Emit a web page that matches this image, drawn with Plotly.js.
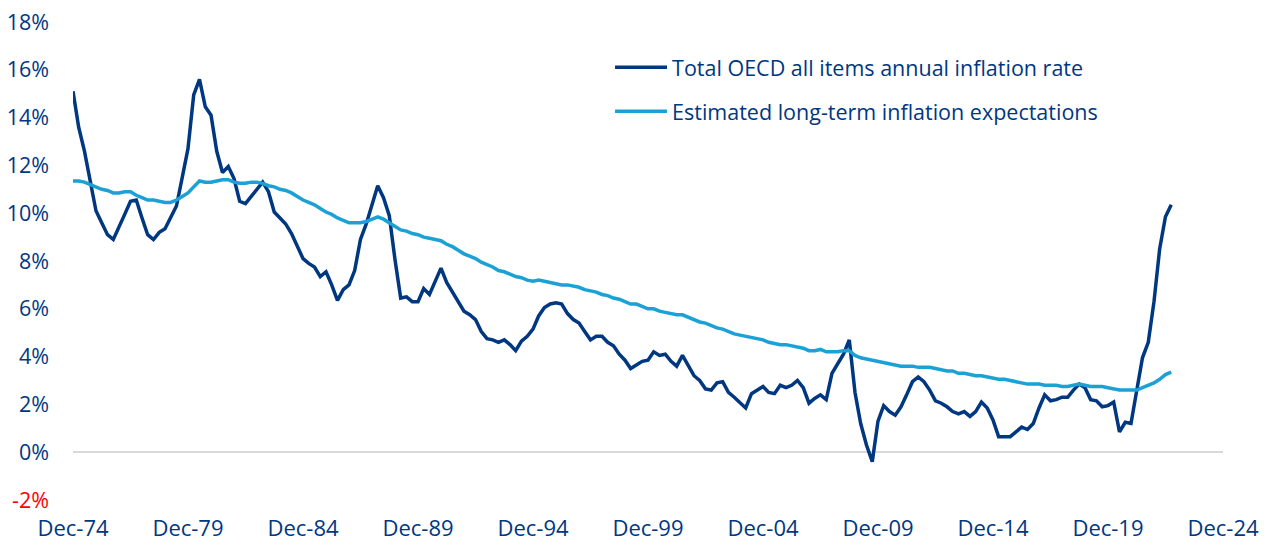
<!DOCTYPE html>
<html>
<head>
<meta charset="utf-8">
<script src="https://cdn.plot.ly/plotly-3.0.1.min.js"></script>
<style>html,body{margin:0;padding:0;background:#fff;}#chart{width:1264px;height:541px;}</style>
</head>
<body>
<div id="chart"></div>
<script>
// Quarterly series, first observation Dec-74, last Sep-22
const startYear = 1974, startMonth = 12;

const oecdInflation = [
15.1,13.6,12.6,11.4,10.1,9.6,9.1,8.9,9.4,9.95,10.5,10.55,9.8,9.1,8.9,9.2,9.35,9.85,10.3,11.5,
12.7,14.95,15.6,14.45,14.1,12.6,11.7,11.95,11.45,10.5,10.4,10.7,11.0,11.3,10.9,10.05,9.8,9.55,9.15,8.6,
8.1,7.9,7.75,7.35,7.55,7.0,6.35,6.8,7.0,7.6,8.9,9.55,10.4,11.15,10.65,9.9,8.05,6.45,6.5,6.3,
6.3,6.85,6.6,7.2,7.7,7.1,6.7,6.3,5.9,5.75,5.55,5.05,4.75,4.7,4.6,4.7,4.5,4.25,4.65,4.85,
5.15,5.7,6.05,6.2,6.25,6.2,5.8,5.55,5.4,5.05,4.7,4.85,4.85,4.6,4.45,4.1,3.85,3.5,3.65,3.8,
3.85,4.2,4.05,4.1,3.8,3.6,4.05,3.6,3.2,3.0,2.65,2.6,2.9,2.95,2.5,2.3,2.05,1.85,2.45,2.6,
2.75,2.5,2.45,2.8,2.7,2.8,3.0,2.7,2.05,2.25,2.4,2.2,3.3,3.7,4.1,4.7,2.5,1.2,0.3,-0.4,
1.3,1.95,1.7,1.55,1.9,2.4,2.95,3.15,2.95,2.6,2.15,2.05,1.9,1.7,1.6,1.7,1.5,1.7,2.1,1.85,
1.35,0.65,0.65,0.65,0.85,1.05,0.95,1.2,1.85,2.4,2.15,2.2,2.3,2.3,2.6,2.85,2.7,2.2,2.15,1.9,
1.95,2.1,0.85,1.25,1.2,2.6,3.95,4.6,6.3,8.5,9.85,10.35
];

const longTermExpectations = [
11.35,11.35,11.3,11.2,11.1,11.0,10.95,10.85,10.85,10.9,10.9,10.75,10.65,10.55,10.55,10.5,10.45,10.45,10.55,10.7,
10.85,11.1,11.35,11.3,11.3,11.35,11.4,11.4,11.3,11.25,11.25,11.3,11.3,11.25,11.15,11.1,11.0,10.95,10.85,10.7,
10.55,10.45,10.35,10.2,10.05,9.95,9.8,9.7,9.6,9.6,9.6,9.65,9.75,9.85,9.75,9.6,9.45,9.3,9.25,9.15,
9.1,9.0,8.95,8.9,8.85,8.7,8.6,8.45,8.3,8.2,8.1,7.95,7.85,7.75,7.6,7.55,7.45,7.35,7.3,7.2,
7.15,7.2,7.15,7.1,7.05,7.0,7.0,6.95,6.9,6.8,6.75,6.7,6.6,6.55,6.45,6.4,6.3,6.2,6.2,6.1,
6.0,6.0,5.9,5.85,5.8,5.75,5.75,5.65,5.55,5.45,5.4,5.3,5.2,5.15,5.05,4.95,4.9,4.85,4.8,4.75,
4.7,4.6,4.55,4.5,4.5,4.45,4.4,4.35,4.25,4.25,4.3,4.2,4.2,4.2,4.25,4.25,4.05,3.95,3.9,3.85,
3.8,3.75,3.7,3.65,3.6,3.6,3.6,3.55,3.55,3.55,3.5,3.45,3.4,3.4,3.3,3.3,3.25,3.2,3.2,3.15,
3.1,3.05,3.05,3.0,2.95,2.9,2.85,2.85,2.85,2.8,2.8,2.8,2.75,2.75,2.8,2.85,2.8,2.75,2.75,2.75,
2.7,2.65,2.6,2.6,2.6,2.6,2.7,2.8,2.9,3.05,3.25,3.35
];

const yTickVals = [-2,0,2,4,6,8,10,12,14,16,18];
const yTickText = ['<span style="fill:#ff0000;color:#ff0000">-2%</span>','0%','2%','4%','6%','8%','10%','12%','14%','16%','18%'];
const xTickVals = ['1974-12-01','1979-12-01','1984-12-01','1989-12-01','1994-12-01','1999-12-01','2004-12-01','2009-12-01','2014-12-01','2019-12-01','2024-12-01'];
const xTickText = ['Dec-74','Dec-79','Dec-84','Dec-89','Dec-94','Dec-99','Dec-04','Dec-09','Dec-14','Dec-19','Dec-24'];
const seriesNames = ['Total OECD all items annual inflation rate','Estimated long-term inflation expectations'];

function quarterDates(n){
  const out = [];
  for (let i = 0; i < n; i++) {
    const m0 = (startMonth - 1) + 3 * i;
    const y = startYear + Math.floor(m0 / 12);
    const m = (m0 % 12) + 1;
    out.push(y + '-' + String(m).padStart(2,'0') + '-01');
  }
  return out;
}
const dates = quarterDates(oecdInflation.length);

const navy = '#003781';
const light = '#1ba1d6';
const fontFam = '"Open Sans", "Noto Sans", sans-serif';

const traces = [
  {x: dates, y: oecdInflation, type: 'scatter', mode: 'lines', name: seriesNames[0],
   line: {color: navy, width: 3.5}, legendgroup: 'a'},
  {x: dates, y: longTermExpectations, type: 'scatter', mode: 'lines', name: seriesNames[1],
   line: {color: light, width: 3.5}, legendgroup: 'b'}
];

const layout = {
  width: 1264, height: 541,
  margin: {l: 73, r: 41, t: 22, b: 41},
  paper_bgcolor: '#ffffff', plot_bgcolor: '#ffffff',
  font: {family: fontFam, color: navy, size: 21},
  showlegend: true,
  legend: {x: 0.467, xanchor: 'left', y: 0.948, yanchor: 'top',
           font: {family: fontFam, size: 21.5, color: navy},
           bgcolor: 'rgba(0,0,0,0)', tracegroupgap: 13, itemwidth: 52},
  xaxis: {type: 'date', range: ['1974-12-01','2024-12-01'], tickmode: 'array',
          tickvals: xTickVals, ticktext: xTickText, showgrid: false, zeroline: false,
          showline: false, ticks: '', ticklabelstandoff: 13,
          tickfont: {family: fontFam, size: 22, color: navy}},
  yaxis: {range: [-2, 18], tickmode: 'array', tickvals: yTickVals, ticktext: yTickText,
          showgrid: false, zeroline: true, zerolinecolor: '#d9d9d9', zerolinewidth: 2,
          showline: false, ticks: '', ticklabelstandoff: 23,
          tickfont: {family: fontFam, size: 21.5, color: navy}}
};

Plotly.newPlot('chart', traces, layout, {displayModeBar: false, staticPlot: true});
</script>
</body>
</html>
